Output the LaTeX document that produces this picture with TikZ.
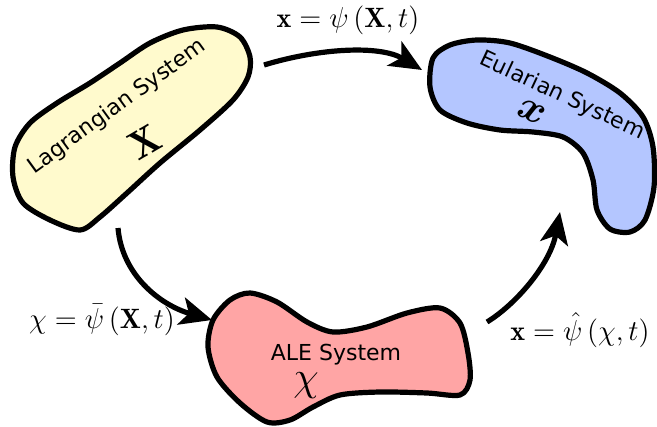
\documentclass[tikz,border=0pt]{standalone}
\usepackage{amsmath}
\usepackage{fontspec}
\setsansfont{DejaVu Sans}
\usetikzlibrary{arrows.meta}

\definecolor{lagrfill}{RGB}{255,250,205}
\definecolor{eulfill}{RGB}{180,198,255}
\definecolor{alefill}{RGB}{255,165,165}

\begin{document}
\begin{tikzpicture}[x=0.5pt,y=-0.5pt]

\tikzset{blob/.style = {line width=2.6pt, line join=round}}
\tikzset{arc/.style = {-{Stealth[length=16pt,width=14pt,inset=4pt]}, line width=2.6pt}}
\tikzset{sysname/.style = {font=\sffamily\fontsize{11}{13}\selectfont}}
\tikzset{bigsym/.style = {font=\fontsize{20}{24}\selectfont}}
\tikzset{maplabel/.style = {font=\fontsize{14}{17}\selectfont}}

\useasboundingbox (0,0) rectangle (657,427);

% blobs
\draw[blob, fill=lagrfill] plot[smooth cycle] coordinates {(150,43) (183,30) (217,27) (240,37) (250,57) (248,77) (233,100) (200,130) (160,163) (127,193) (100,217) (80,230) (50,220) (23,203) (13,177) (15,147) (30,123) (57,103) (90,83) (120,63)};
\draw[blob, fill=eulfill] plot[smooth cycle] coordinates {(433,58) (450,45) (477,40) (510,43) (550,57) (587,73) (620,93) (643,117) (653,147) (654,187) (645,220) (630,232) (610,229) (597,210) (593,180) (583,153) (563,137) (533,132) (500,130) (467,123) (440,110) (430,87)};
\draw[blob, fill=alefill] plot[smooth cycle] coordinates {(213,320) (230,300) (250,293) (277,302) (307,322) (333,332) (367,327) (407,313) (440,308) (460,323) (468,353) (470,380) (460,395) (427,393) (380,392) (340,395) (313,407) (290,420) (267,422) (240,403) (217,377) (208,347)};

% systems
\node[sysname, rotate=36] (lagr) at (117,107) {Lagrangian System};
\node[bigsym, rotate=30] (X) at (145,142) {$\mathbf{X}$};
\node[sysname, rotate=-25] (eul) at (562,96) {Eularian System};
\node[bigsym, rotate=-25] (x) at (532,112) {$\boldsymbol{x}$};
\node[sysname] (ale) at (336,355) {ALE System};
\node[bigsym] (chi) at (306,386) {$\chi$};

% labels
\node[maplabel] (psi) at (348,20) {$\mathbf{x}=\psi\left(\mathbf{X},t\right)$};
\node[maplabel] (psibar) at (102,320) {$\chi=\bar{\psi}\left(\mathbf{X},t\right)$};
\node[maplabel] (psihat) at (580,330) {$\mathbf{x}=\hat{\psi}\left(\chi,t\right)$};

% ends
\coordinate (lagr-e) at (264,65);
\coordinate (eul-w) at (422,70);
\coordinate (lagr-s) at (118,228);
\coordinate (ale-w) at (212,320);
\coordinate (ale-e) at (487,322);
\coordinate (eul-s) at (560,212);

% arcs
\draw[arc] (lagr-e) .. controls (320,48) and (380,45) .. (eul-w);
\draw[arc] (lagr-s) .. controls (122,275) and (160,305) .. (ale-w);
\draw[arc] (ale-e) .. controls (515,305) and (550,265) .. (eul-s);

\end{tikzpicture}
\end{document}
